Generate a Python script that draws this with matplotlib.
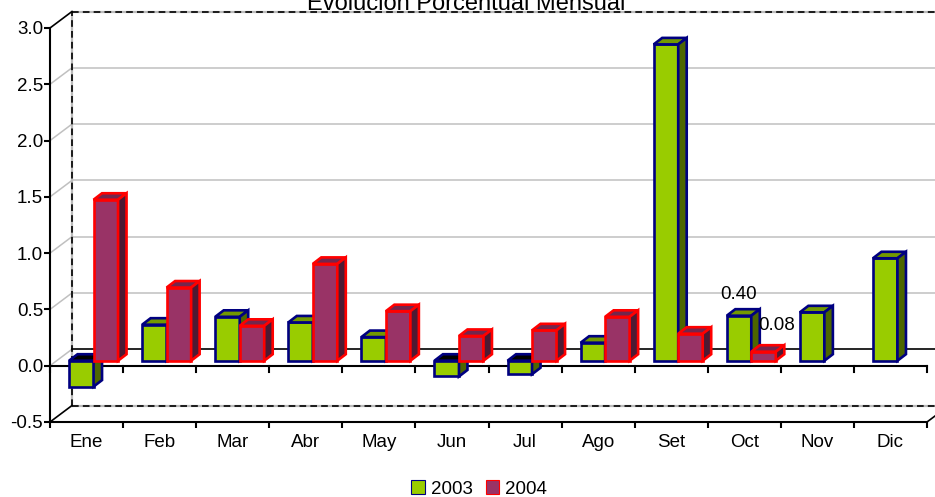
import numpy as np
import matplotlib.pyplot as plt
from matplotlib.patches import Patch

plt.rcParams['font.family'] = ['Liberation Sans', 'DejaVu Sans']

months = ['Ene', 'Feb', 'Mar', 'Abr', 'May', 'Jun',
          'Jul', 'Ago', 'Set', 'Oct', 'Nov', 'Dic']
v2003 = [-0.23, 0.32, 0.39, 0.34, 0.21, -0.14,
         -0.12, 0.16, 2.81, 0.40, 0.43, 0.91]
v2004 = [1.43, 0.65, 0.31, 0.86, 0.44, 0.22,
         0.27, 0.39, 0.24, 0.08, np.nan, np.nan]
series = ['2003', '2004']
labels = {(9, 0): '0.40', (9, 1): '0.08'}

# face colours: front, top, side, edge
styles = [dict(front='#99CC00', top='#739900', side='#4D6600', edge='#000080'),
          dict(front='#993366', top='#73264D', side='#4D1A33', edge='#FF0000')]

fig = plt.figure(figsize=(9.35, 4.97), dpi=100)
ax = fig.add_axes([50/935, 75/497, 877/935, 394/497])
ax.set_xlim(0, 12)
ax.set_ylim(-0.5, 3.0)
ax.patch.set_visible(False)

pxx = 877 / 12.0
pxy = 394 / 3.5
# wall depth, bar offset from front plane, bar depth
DXW, DYW = 22/pxx, 16.5/pxy
FX, FY = 7/pxx, 5/pxy
DXB, DYB = 8.5/pxx, 6.5/pxy
BW = 24.5/pxx

# back wall and side wall
for g in np.arange(0.5, 3.0, 0.5):
    ax.plot([DXW, 12 + DXW], [g + DYW, g + DYW], color='#C0C0C0', lw=1.1,
            clip_on=False, zorder=1)
for g in np.arange(0.0, 3.0, 0.5):
    ax.plot([0, DXW], [g, g + DYW], color='#C0C0C0', lw=1.1, clip_on=False, zorder=1)
ax.plot([DXW, 12 + DXW], [DYW, DYW], color='black', lw=1.2, clip_on=False, zorder=1.5)
for seg in ([[DXW, 12 + DXW], [3 + DYW, 3 + DYW]],
            [[DXW, DXW], [-0.5 + DYW, 3 + DYW]],
            [[DXW, 12 + DXW], [-0.5 + DYW, -0.5 + DYW]]):
    ax.plot(seg[0], seg[1], color='#BBBBBB', lw=1.6, clip_on=False, zorder=1)
    ax.plot(seg[0], seg[1], color='black', lw=1.2, ls=(0, (4, 2.5)),
            clip_on=False, zorder=1.2)
ax.plot([0, DXW], [3, 3 + DYW], color='black', lw=1.2, clip_on=False)
ax.plot([0, DXW], [-0.5, -0.5 + DYW], color='black', lw=1.2, clip_on=False)
ax.plot([12, 12 + DXW], [-0.5, -0.5 + DYW], color='black', lw=1.2, clip_on=False)

# front zero line with ticks
ax.plot([0, 12], [0, 0], color='black', lw=1.5, zorder=2, clip_on=False)
for k in range(13):
    ax.plot([k, k], [0, -6/pxy], color='black', lw=1.5, zorder=2, clip_on=False)

# bars with pseudo depth
idx = np.arange(len(months))
for j, vals in enumerate([v2003, v2004]):
    st = styles[j]
    lefts = idx + 0.5 + FX - BW + j * BW
    bars = ax.bar(lefts, vals, width=BW, bottom=FY, align='edge',
                  color=st['front'], edgecolor=st['edge'], linewidth=1.9)
    for i, (b, v) in enumerate(zip(bars, vals)):
        base = 3 + (2 * i + j) * 0.1
        b.set_zorder(base)
        if np.isnan(v):
            continue
        l, r = lefts[i], lefts[i] + BW
        top = FY + max(v, 0)
        bot = FY + min(v, 0)
        tcol = st['top'] if v >= 0 else 'black'
        ax.fill([l, l + DXB, r + DXB, r], [top, top + DYB, top + DYB, top],
                facecolor=tcol, edgecolor=st['edge'], lw=1.9, zorder=base + 0.01)
        ax.fill([r, r + DXB, r + DXB, r], [bot, bot + DYB, top + DYB, top],
                facecolor=st['side'], edgecolor=st['edge'], lw=1.9, zorder=base + 0.02)

# data labels
offsets = {(9, 0): (0, 21), (9, 1): (13, 26)}
for (i, j), txt in labels.items():
    v = [v2003, v2004][j][i]
    xc = idx[i] + 0.5 + FX - BW + j * BW + BW / 2
    ax.annotate(txt, (xc, v + FY), xytext=offsets[(i, j)], textcoords='offset pixels',
                ha='center', va='center', fontsize=13.5, zorder=10)

# axes
for s in ['top', 'right']:
    ax.spines[s].set_visible(False)
for s in ['left', 'bottom']:
    ax.spines[s].set_linewidth(1.5)
ax.set_yticks(np.arange(-0.5, 3.01, 0.5))
ax.set_yticklabels([f'{t:.1f}' for t in np.arange(-0.5, 3.01, 0.5)])
ax.tick_params(axis='y', length=4, width=1.5, pad=1, labelsize=13.5)
ax.set_xticks(np.arange(13))
ax.set_xticklabels([])
ax.set_xticks(idx + 0.5, minor=True)
ax.set_xticklabels(months, minor=True)
ax.tick_params(axis='x', which='major', length=4.5, width=1.5)
ax.tick_params(axis='x', which='minor', length=0, pad=8.5, labelsize=13.5)

fig.text(466/935, 1 - 9.5/497, 'Evolución Porcentual Mensual', ha='center',
         va='baseline', fontsize=17)

handles = [Patch(facecolor=st['front'], edgecolor=st['edge'], lw=0.8) for st in styles]
fig.legend(handles, series, loc='center', bbox_to_anchor=(479/935, 1 - 489/497),
           ncol=2, frameon=False, fontsize=13.5, handlelength=0.72, handleheight=0.72,
           handletextpad=0.3, columnspacing=0.7, borderpad=0)

fig.savefig('out.png', dpi=100)
